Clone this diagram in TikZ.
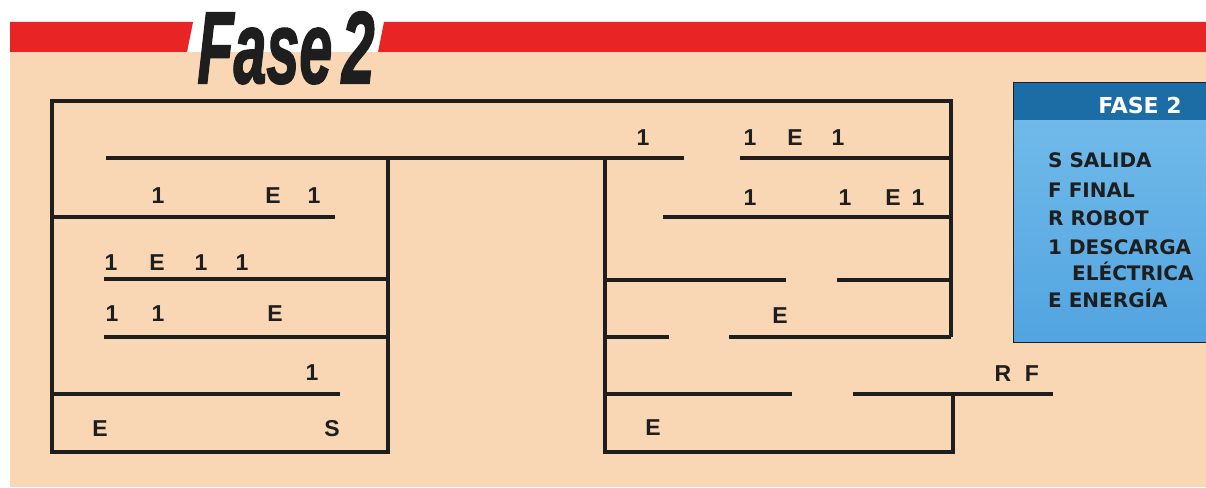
\documentclass[tikz,border=0pt]{standalone}
\usepackage{fontspec}
\usepackage{graphicx}
\usepackage{xcolor}
\usetikzlibrary{positioning}
\setmainfont{Liberation Sans}
\newfontfamily\titlefont{Liberation Sans Bold Italic}[FakeBold=2]
\newfontfamily\legendfont{DejaVu Sans Bold}
\definecolor{paper}{RGB}{250,215,180}
\definecolor{bandred}{RGB}{232,36,36}
\definecolor{headblue}{RGB}{28,108,165}
\definecolor{boxtop}{RGB}{112,186,234}
\definecolor{boxbot}{RGB}{82,164,224}
\definecolor{ink}{RGB}{30,30,30}

\begin{document}
\begin{tikzpicture}[
    x=1pt, y=-1pt,
    every node/.style={inner sep=0pt},
    wall/.style={draw=ink, line width=3.2pt},
    lbl/.style={font=\bfseries\fontsize{23}{23}\selectfont, text=ink, anchor=base},
    legitem/.style={font=\legendfont\fontsize{20}{20}\selectfont, text=ink, anchor=base west},
]
\useasboundingbox (0,0) rectangle (1206,487);

% Background and title band
\fill[paper] (10,52) rectangle (1206,487);
\fill[bandred] (10,22) -- (193,22) -- (187,52) -- (10,52) -- cycle;
\fill[bandred] (384,22) -- (1206,22) -- (1206,52) -- (378,52) -- cycle;
\node[anchor=base, text=ink] (title) at (286,83)
    {\scalebox{0.58}[1]{\titlefont\fontsize{102}{102}\selectfont Fase\hspace{0.16em}2}};

% Outer walls
\draw[wall] (52,158) -- (52,101) -- (951,101) -- (951,337);
\draw[wall] (52,150) -- (52,452) -- (388,452) -- (388,158);
\draw[wall] (106,158) -- (684,158);

% Left maze
\draw[wall] (52,217) -- (335,217);
\draw[wall] (104,279) -- (388,279);
\draw[wall] (104,337) -- (388,337);
\draw[wall] (52,394) -- (340,394);

% Right maze
\draw[wall] (605,158) -- (605,452) -- (953,452) -- (953,394);
\draw[wall] (740,158) -- (951,158);
\draw[wall] (663,217) -- (951,217);
\draw[wall] (605,280) -- (786,280);
\draw[wall] (837,280) -- (951,280);
\draw[wall] (605,337) -- (669,337);
\draw[wall] (729,337) -- (951,337);
\draw[wall] (605,394) -- (792,394);
\draw[wall] (853,394) -- (1053,394);

% Left maze labels
\node[lbl] (la1) at (158,203) {1};
\node[lbl] (la2) at (273,203) {E};
\node[lbl] (la3) at (314,203) {1};
\node[lbl] (lb1) at (111,270) {1};
\node[lbl] (lb2) at (157,270) {E};
\node[lbl] (lb3) at (201,270) {1};
\node[lbl] (lb4) at (242,270) {1};
\node[lbl] (lc1) at (112,321) {1};
\node[lbl] (lc2) at (158,321) {1};
\node[lbl] (lc3) at (275,321) {E};
\node[lbl] (ld1) at (312,380) {1};
\node[lbl] (le1) at (100,436) {E};
\node[lbl] (start) at (332,436) {S};

% Right maze labels
\node[lbl] (ra1) at (643,145) {1};
\node[lbl] (ra2) at (750,145) {1};
\node[lbl] (ra3) at (795,145) {E};
\node[lbl] (ra4) at (838,145) {1};
\node[lbl] (rb1) at (750,205) {1};
\node[lbl] (rb2) at (845,205) {1};
\node[lbl] (rb3) at (893,205) {E};
\node[lbl] (rb4) at (918,205) {1};
\node[lbl] (rc1) at (780,323) {E};
\node[lbl] (robot) at (1003,381) {R};
\node[lbl] (goal) at (1032,381) {F};
\node[lbl] (rd1) at (653,435) {E};

% Legend
\shade[top color=boxtop, bottom color=boxbot] (1013,120) rectangle (1206,342);
\fill[headblue] (1013,82) rectangle (1206,120);
\draw[ink, line width=0.8pt] (1206,82) -- (1013,82) -- (1013,342) -- (1206,342);
\node[font=\legendfont\fontsize{22}{22}\selectfont, text=white, anchor=base]
    (legtitle) at (1140,113) {FASE 2};
\node[legitem] (legS) at (1048,167) {S SALIDA};
\node[legitem] (legF) at (1048,197) {F FINAL};
\node[legitem] (legR) at (1048,225) {R ROBOT};
\node[legitem] (leg1) at (1048,254) {1 DESCARGA};
\node[legitem] (leg1b) at (1072,280) {ELÉCTRICA};
\node[legitem] (legE) at (1048,307) {E ENERGÍA};

\end{tikzpicture}
\end{document}
